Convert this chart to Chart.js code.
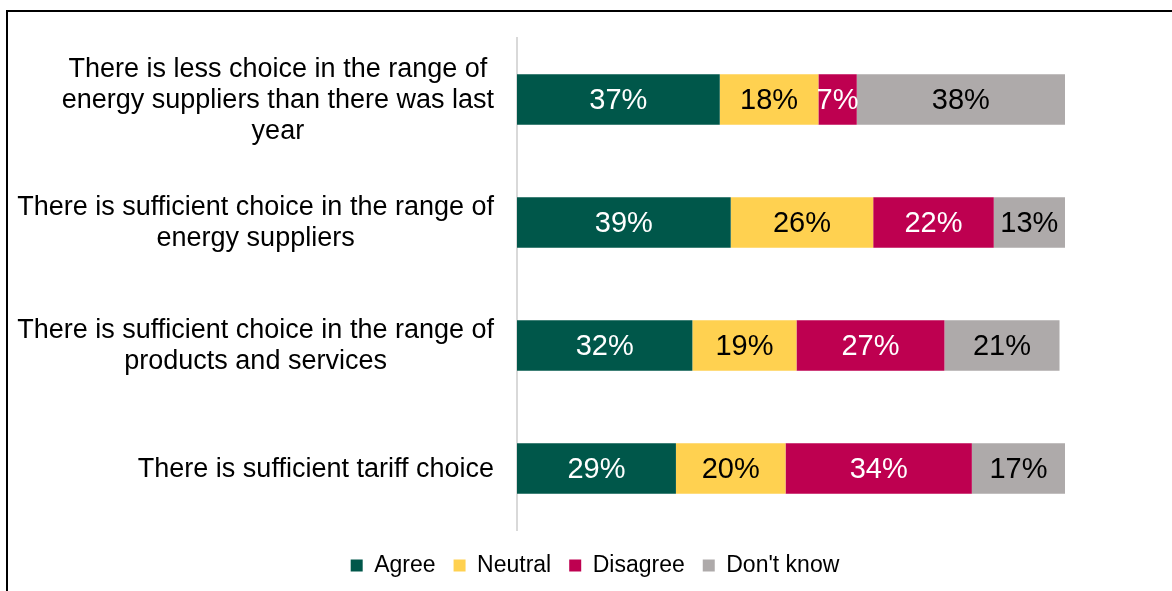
<!DOCTYPE html>
<html>
<head>
<meta charset="utf-8">
<script src="https://cdn.jsdelivr.net/npm/chart.js@4"></script>
<style>
  html, body { margin: 0; padding: 0; background: #fff; }
  #wrap { position: relative; width: 1172px; height: 591px; overflow: hidden; }
  #frame {
    position: absolute; left: 6px; top: 10px; right: -10px; bottom: -10px;
    border-top: 2px solid #000; border-left: 2px solid #000;
    pointer-events: none;
  }
</style>
</head>
<body>
<div id="wrap">
  <canvas id="choiceChart" width="1172" height="591"></canvas>
  <div id="frame"></div>
</div>
<script>
// statements, one array of wrapped lines each
const statements = [
  ["There is less choice in the range of", "energy suppliers than there was last", "year"],
  ["There is sufficient choice in the range of", "energy suppliers"],
  ["There is sufficient choice in the range of", "products and services"],
  ["There is sufficient tariff choice"],
];

const agree = [37, 39, 32, 29];
const neutral = [18, 26, 19, 20];
const disagree = [7, 22, 27, 34];
const dontKnow = [38, 13, 21, 17];

const FONT = '"Liberation Sans", Arial, sans-serif';

// percentages written in the middle of every bar segment
const segmentLabels = {
  id: "segmentLabels",
  afterDatasetsDraw(chart) {
    const ctx = chart.ctx;
    ctx.save();
    ctx.font = "29px " + FONT;
    ctx.textAlign = "center";
    ctx.textBaseline = "middle";
    chart.data.datasets.forEach((ds, i) => {
      chart.getDatasetMeta(i).data.forEach((bar, j) => {
        const p = bar.getProps(["x", "y", "base"], true);
        ctx.fillStyle = ds.textColor;
        ctx.fillText(ds.data[j] + "%", (p.x + p.base) / 2, p.y + 1);
      });
    });
    ctx.restore();
  },
};

// statement text: block sits right of the axis gap, lines centred inside it
const statementLabels = {
  id: "statementLabels",
  afterDraw(chart) {
    const ctx = chart.ctx;
    const yScale = chart.scales.y;
    const right = chart.chartArea.left - 23;
    const lineH = 31;
    ctx.save();
    ctx.font = "27px " + FONT;
    ctx.fillStyle = "#000";
    ctx.textAlign = "center";
    ctx.textBaseline = "middle";
    statements.forEach((lines, i) => {
      const widest = Math.max(...lines.map((l) => ctx.measureText(l).width));
      const cx = right - widest / 2;
      const cy = yScale.getPixelForValue(i);
      const top = cy - ((lines.length - 1) * lineH) / 2;
      lines.forEach((l, k) => ctx.fillText(l, cx, top + k * lineH + 1));
    });
    ctx.restore();
  },
};

const data = {
  labels: statements.map((s) => s.join(" ")),
  datasets: [
    { label: "Agree", data: agree, backgroundColor: "#00574A", textColor: "#fff" },
    { label: "Neutral", data: neutral, backgroundColor: "#FFD150", textColor: "#000" },
    { label: "Disagree", data: disagree, backgroundColor: "#BE0050", textColor: "#fff" },
    { label: "Don't know", data: dontKnow, backgroundColor: "#AEAAAA", textColor: "#000" },
  ],
};

new Chart(document.getElementById("choiceChart"), {
  type: "bar",
  data: data,
  options: {
    indexAxis: "y",
    responsive: false,
    animation: false,
    datasets: {
      bar: { categoryPercentage: 1, barPercentage: 0.41 },
    },
    layout: { padding: { top: 38, bottom: 4, left: 18 } },
    plugins: {
      tooltip: { enabled: false },
      legend: {
        position: "bottom",
        // blank title only adds a little space above the legend row
        title: { display: true, text: " ", padding: 0, font: { size: 5 } },
        labels: {
          boxWidth: 12,
          boxHeight: 12,
          padding: 18,
          color: "#000",
          font: { size: 23, family: FONT },
        },
      },
    },
    scales: {
      x: { stacked: true, min: 0, max: 100, display: false },
      y: {
        stacked: true,
        grid: { display: false },
        border: { color: "#D9D9D9", width: 2 },
        ticks: { display: false },
        afterFit: (s) => { s.width = 499; },
      },
      // empty strip on the right so the bars stop short of the frame
      yRight: {
        type: "category",
        position: "right",
        grid: { display: false },
        border: { display: false },
        ticks: { display: false },
        afterFit: (s) => { s.width = 107; },
      },
    },
  },
  plugins: [segmentLabels, statementLabels],
});
</script>
</body>
</html>
